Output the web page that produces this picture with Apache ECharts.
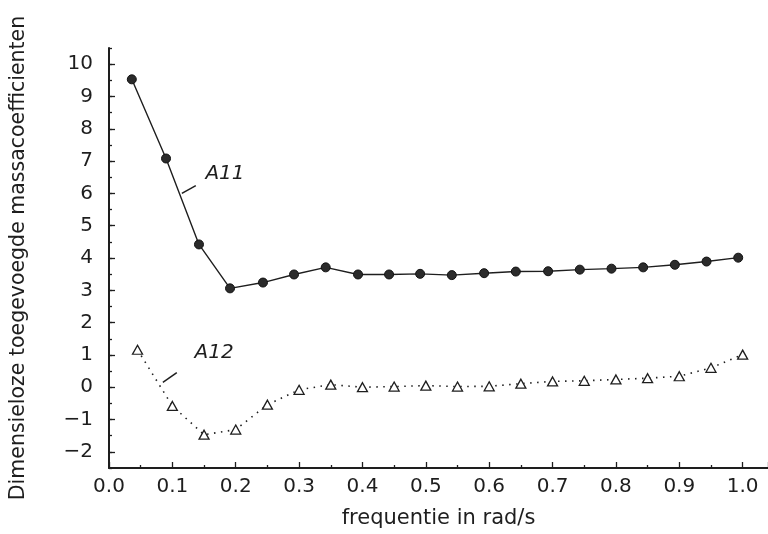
<!DOCTYPE html>
<html>
<head>
<meta charset="utf-8">
<script src="https://cdn.jsdelivr.net/npm/echarts@6/dist/echarts.min.js"></script>
<style>html,body{margin:0;padding:0;background:#fff;}#c{width:768px;height:534px;}</style>
</head>
<body>
<div id="c"></div>
<script>
// ---- data ----
const a11Freq = [0.036, 0.09, 0.142, 0.191, 0.243, 0.292, 0.342, 0.393, 0.442, 0.491, 0.541, 0.592, 0.642, 0.693, 0.743, 0.793, 0.843, 0.893, 0.943, 0.993];
const a11Vals = [9.53, 7.08, 4.42, 3.06, 3.24, 3.49, 3.71, 3.49, 3.49, 3.51, 3.47, 3.53, 3.58, 3.59, 3.64, 3.67, 3.71, 3.79, 3.89, 4.01];
const a12Freq = [0.045, 0.10, 0.15, 0.20, 0.25, 0.30, 0.35, 0.40, 0.45, 0.50, 0.55, 0.60, 0.65, 0.70, 0.75, 0.80, 0.85, 0.90, 0.95, 1.00];
const a12Vals = [1.16, -0.58, -1.47, -1.31, -0.54, -0.08, 0.08, 0.0, 0.02, 0.05, 0.02, 0.03, 0.11, 0.18, 0.20, 0.24, 0.28, 0.34, 0.60, 1.01];
const yTickLabels = [-2, -1, 0, 1, 2, 3, 4, 5, 6, 7, 8, 9, 10];
const xTickLabels = [0.0, 0.1, 0.2, 0.3, 0.4, 0.5, 0.6, 0.7, 0.8, 0.9, 1.0];
const xTitle = 'frequentie in rad/s';
const yTitle = 'Dimensieloze toegevoegde massacoefficienten';
// annotation anchors in data coordinates
const ann11 = {text: 'A11', at: [0.183, 6.61], lead: [[0.115, 6.0], [0.137, 6.24]]};
const ann12 = {text: 'A12', at: [0.166, 1.07], lead: [[0.085, 0.15], [0.107, 0.45]]};

const FONT = 'DejaVu Sans';
const INK = '#1e1e1e';
const chart = echarts.init(document.getElementById('c'), null, {renderer: 'canvas'});

const zip = (xs, ys) => xs.map((x, i) => [x, ys[i]]);
const fmtY = v => (v < 0 ? '\u2212' + Math.abs(v) : String(v));

chart.setOption({
  backgroundColor: '#fff',
  animation: false,
  grid: {left: 109, right: 0, top: 48, bottom: 66, containLabel: false},
  xAxis: {
    type: 'value', min: 0, max: 1.04, interval: 0.1,
    name: xTitle, nameLocation: 'middle', nameGap: 40,
    nameTextStyle: {fontFamily: FONT, fontSize: 21, color: INK},
    axisLine: {show: true, onZero: false, lineStyle: {color: INK, width: 2}},
    axisTick: {show: true, inside: true, length: 6, lineStyle: {color: INK, width: 1.3}},
    minorTick: {show: true, splitNumber: 2, length: 3, lineStyle: {color: INK, width: 1.3}},
    splitLine: {show: false},
    axisLabel: {
      margin: 9, fontFamily: FONT, fontSize: 20, color: INK,
      customValues: xTickLabels,
      formatter: v => v.toFixed(1)
    }
  },
  yAxis: [{
    type: 'value', min: -2.5, max: 10.5, interval: 0.5,
    name: yTitle, nameLocation: 'middle', nameGap: 80,
    nameTextStyle: {fontFamily: FONT, fontSize: 20.5, color: INK},
    axisLine: {show: true, onZero: false, lineStyle: {color: INK, width: 2}},
    axisTick: {show: true, inside: true, length: 3, lineStyle: {color: INK, width: 1.3}},
    splitLine: {show: false},
    axisLabel: {
      margin: 16, fontFamily: FONT, fontSize: 20, color: INK,
      customValues: yTickLabels,
      formatter: fmtY
    }
  }, {
    type: 'value', min: -2.5, max: 10.5, position: 'left',
    axisLine: {show: false},
    axisTick: {show: true, inside: true, length: 6, customValues: yTickLabels, lineStyle: {color: INK, width: 1.3}},
    axisLabel: {show: false},
    splitLine: {show: false}
  }],
  series: [{
    name: 'A11', type: 'line', data: zip(a11Freq, a11Vals),
    symbol: 'circle', symbolSize: 9,
    itemStyle: {color: '#2b2b2b', borderColor: '#111', borderWidth: 1},
    lineStyle: {color: INK, width: 1.4},
    z: 3
  }, {
    name: 'A12', type: 'line', data: zip(a12Freq, a12Vals),
    symbol: 'triangle', symbolSize: [10, 9],
    itemStyle: {color: '#fff', borderColor: INK, borderWidth: 1.3},
    lineStyle: {color: INK, width: 1.6, type: [1.5, 5.5]},
    z: 3
  }]
});

function annGraphics(a) {
  const p = chart.convertToPixel({gridIndex: 0}, a.at);
  const l0 = chart.convertToPixel({gridIndex: 0}, a.lead[0]);
  const l1 = chart.convertToPixel({gridIndex: 0}, a.lead[1]);
  return [{
    type: 'text', x: p[0], y: p[1],
    style: {text: a.text, fill: INK, font: 'italic 20px "DejaVu Sans"', align: 'center', verticalAlign: 'middle'}
  }, {
    type: 'line', shape: {x1: l0[0], y1: l0[1], x2: l1[0], y2: l1[1]},
    style: {stroke: INK, lineWidth: 1.5}
  }];
}
chart.setOption({graphic: annGraphics(ann11).concat(annGraphics(ann12))});
</script>
</body>
</html>
